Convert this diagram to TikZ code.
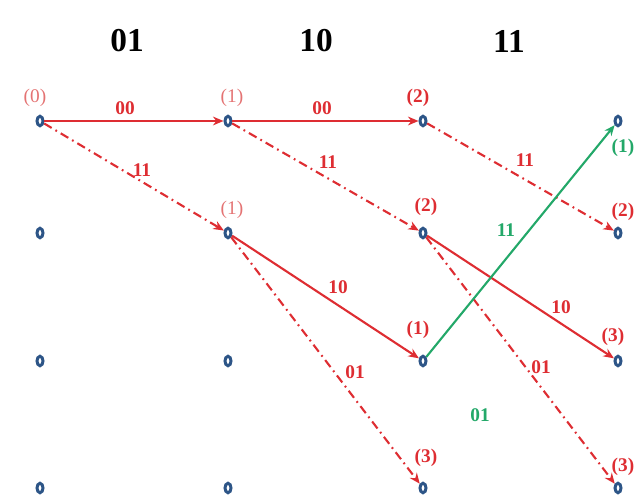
\documentclass[tikz,border=0pt]{standalone}
\usepackage{fontspec}
\setmainfont{Liberation Serif}
\usetikzlibrary{arrows.meta,positioning,shapes.geometric}
\definecolor{pathred}{RGB}{222,45,50}
\definecolor{palered}{RGB}{228,115,115}
\definecolor{pathgreen}{RGB}{35,168,105}
\definecolor{stateblue}{RGB}{45,85,135}
\tikzset{
  stnode/.style={ellipse,draw=stateblue,line width=1.7pt,minimum width=0.12cm,minimum height=0.19cm,inner sep=0pt},
  hdr/.style={font=\fontsize{19}{21}\selectfont\bfseries,text=black},
  rlab/.style={font=\fontsize{11}{12}\selectfont\bfseries,text=pathred,inner sep=0pt},
  plab/.style={font=\fontsize{11}{12}\selectfont,text=palered,inner sep=0pt},
  glab/.style={font=\fontsize{11}{12}\selectfont\bfseries,text=pathgreen,inner sep=0pt},
  solidtr/.style={draw=pathred,line width=1.2pt,-{Stealth[length=6pt,width=5pt]}},
  dashtr/.style={draw=pathred,line width=1.2pt,dash pattern=on 5pt off 2.5pt on 1pt off 2.5pt,-{Stealth[length=6pt,width=5pt]}},
  greentr/.style={draw=pathgreen,line width=1.2pt,-{Stealth[length=6pt,width=5pt]}}
}
\newcommand{\tlabel}[4]{\node[#1] (#2) at #3 {#4};}

\begin{document}
\begin{tikzpicture}[x=0.02cm,y=-0.02cm]
  \useasboundingbox (0,0) rectangle (638,502);
  % input bits
  \node[hdr] (h1) at (127,41) {01};
  \node[hdr] (h2) at (316,41) {10};
  \node[hdr] (h3) at (509,41) {11};
  % trellis states
  \foreach \c/\x in {0/40,1/228,2/423,3/618}
    \foreach \r/\y in {0/121,1/233,2/361,3/488}
      \node[stnode] (s\c\r) at (\x,\y) {};
  % branches
  \draw[solidtr] (s00) -- (s10);
  \draw[solidtr] (s10) -- (s20);
  \draw[dashtr] (s00) -- (s11);
  \draw[dashtr] (s10) -- (s21);
  \draw[dashtr] (s20) -- (s31);
  \draw[solidtr] (s11) -- (s22);
  \draw[dashtr] (s11) -- (s23);
  \draw[solidtr] (s21) -- (s32);
  \draw[dashtr] (s21) -- (s33);
  \draw[greentr] (s22) -- (s30);
  % branch outputs
  \tlabel{rlab}{b1}{(125,108)}{00}
  \tlabel{rlab}{b2}{(322,108)}{00}
  \tlabel{rlab}{b3}{(142,170)}{11}
  \tlabel{rlab}{b4}{(328,162)}{11}
  \tlabel{rlab}{b5}{(525,160)}{11}
  \tlabel{glab}{b6}{(506,230)}{11}
  \tlabel{rlab}{b7}{(338,287)}{10}
  \tlabel{rlab}{b8}{(561,307)}{10}
  \tlabel{rlab}{b9}{(355,372)}{01}
  \tlabel{rlab}{b10}{(541,367)}{01}
  \tlabel{glab}{b11}{(480,415)}{01}
  % path metrics
  \tlabel{plab}{m00}{(35,98)}{(0)}
  \tlabel{plab}{m10}{(232,98)}{(1)}
  \tlabel{plab}{m11}{(232,210)}{(1)}
  \tlabel{rlab}{m20}{(418,98)}{(2)}
  \tlabel{rlab}{m21}{(426,207)}{(2)}
  \tlabel{rlab}{m22}{(418,330)}{(1)}
  \tlabel{rlab}{m23}{(426,458)}{(3)}
  \tlabel{glab}{m30}{(623,148)}{(1)}
  \tlabel{rlab}{m31}{(623,212)}{(2)}
  \tlabel{rlab}{m32}{(613,337)}{(3)}
  \tlabel{rlab}{m33}{(623,467)}{(3)}
\end{tikzpicture}
\end{document}
